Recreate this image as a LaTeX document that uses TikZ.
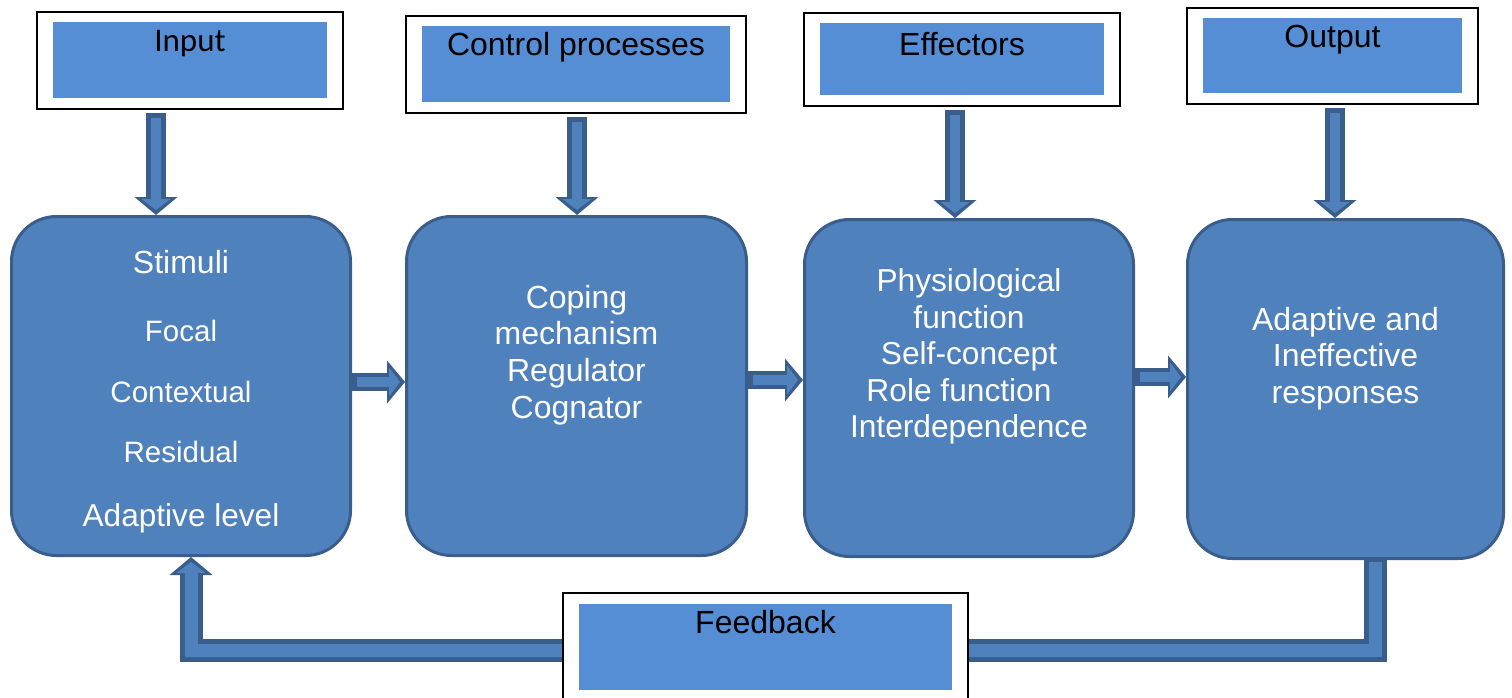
\documentclass[tikz,border=0pt]{standalone}
\usepackage{fontspec}
\setmainfont{Liberation Sans}
\newfontfamily\carlitofont{Carlito}
\usetikzlibrary{positioning,arrows.meta}
\definecolor{boxblue}{HTML}{4F81BD}
\definecolor{headblue}{HTML}{558ED5}
\definecolor{edgeblue}{HTML}{3A5E8C}
\tikzset{
	headbox/.style={draw=black, line width=2pt, fill=white, anchor=base, inner sep=0pt,
		text height=40pt, font=\fontsize{32}{36}\selectfont,
		path picture={\fill[headblue] ([xshift=16pt,yshift=-10.5pt]path picture bounding box.north west)
			rectangle ([xshift=-16pt,yshift=10.5pt]path picture bounding box.south east);}},
	roundbox/.style={draw=edgeblue, line width=3pt, fill=boxblue, rounded corners=45pt, minimum height=339pt},
	boxtext/.style={anchor=north, inner sep=0pt, align=center, text=white, font=\fontsize{32}{36.6}\selectfont},
	blockarrow/.style={draw=edgeblue, line width=20pt, line join=miter,
		-{Triangle[width=43pt,length=18pt,line width=0pt]},
		postaction={draw=boxblue, line width=#1, shorten <=5pt, shorten >=5pt,
			-{Triangle[width=29pt,length=11pt,line width=0pt]}}},
	blockarrow/.default=10pt,
}

\begin{document}
\begin{tikzpicture}[x=1pt,y=-1pt]
	\useasboundingbox (0,0) rectangle (1512,698);
	% top row
	\node[headbox, minimum width=306pt, text depth=57pt, font=\carlitofont\fontsize{33}{36}\selectfont] (input) at (190,52) {Input};
	\node[headbox, minimum width=340pt, text depth=57pt] (control) at (576,56) {Control processes};
	\node[headbox, minimum width=316pt, text height=43pt, text depth=50pt] (effectors) at (962,56) {Effectors};
	\node[headbox, minimum width=291pt, text depth=56pt] (output) at (1332.5,48) {Output};
	% main boxes
	\node[roundbox, minimum width=339pt] (stim) at (181,386) {};
	\node[roundbox, minimum width=340pt] (coping) at (576.5,386) {};
	\node[roundbox, minimum width=329pt, minimum height=337pt] (effect) at (969,388) {};
	\node[roundbox, minimum width=316pt] (resp) at (1345.5,389) {};
	\node[boxtext, below=35.5pt of stim.north] (stimtext) {%
		\fontsize{32}{37}\selectfont Stimuli\\[31pt]
		\fontsize{29.5}{37}\selectfont Focal\\[24pt]
		\fontsize{29.5}{37}\selectfont Contextual\\[24pt]
		\fontsize{29.5}{37}\selectfont Residual\\[27.5pt]
		\fontsize{31.6}{37}\selectfont Adaptive level};
	\node[boxtext, below=70pt of coping.north] (copingtext) {Coping\\mechanism\\Regulator\\Cognator};
	\node[boxtext, below=50.5pt of effect.north, font=\fontsize{31.7}{36.5}\selectfont] (effecttext)
		{Physiological\\function\\Self-concept\\Role function\rule{20pt}{0pt}\\Interdependence};
	\node[boxtext, below=89pt of resp.north, font=\fontsize{32}{36.5}\selectfont] (resptext)
		{Adaptive and\\Ineffective\\responses};
	% arrows
	\draw[blockarrow] ([yshift=-3pt,xshift=-34pt]input.south) -- ([xshift=-34pt]input.south |- stim.north);
	\draw[blockarrow] ([yshift=-3pt,xshift=1pt]control.south) -- ([xshift=1pt]control.south |- coping.north);
	\draw[blockarrow] ([yshift=-3pt,xshift=-7pt]effectors.south) -- ([xshift=-7pt]effectors.south |- effect.north);
	\draw[blockarrow] ([yshift=-3pt,xshift=2.5pt]output.south) -- ([xshift=2.5pt]output.south |- resp.north);
	\draw[blockarrow, line width=18pt] ([yshift=4pt]stim.east) -- ([yshift=4pt]stim.east -| coping.west);
	\draw[blockarrow, line width=18pt] ([yshift=6pt]coping.east) -- ([yshift=6pt]coping.east -| effect.west);
	\draw[blockarrow, line width=18pt] ([yshift=11pt]effect.east) -- ([yshift=11pt]effect.east -| resp.west);
	% feedback loop
	\coordinate (fbturn) at (1375,650);
	\draw[blockarrow=13pt, line width=23pt] ([xshift=29.5pt,yshift=3pt]resp.south) |- ([xshift=10pt]stim.south |- fbturn)
		-- ([xshift=10pt]stim.south);
	\node[headbox, minimum width=405pt, text depth=67pt] (feedback) at (765.5,633) {Feedback};
\end{tikzpicture}
\end{document}
